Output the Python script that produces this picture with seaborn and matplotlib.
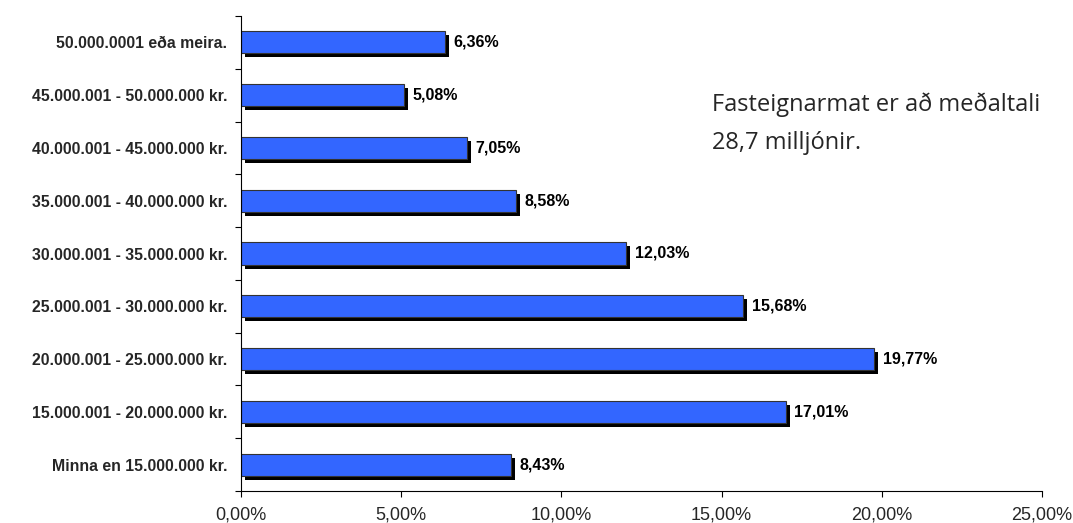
import matplotlib
matplotlib.use("Agg")
import matplotlib.pyplot as plt
import matplotlib.transforms as mtransforms
from matplotlib.ticker import FixedLocator, FuncFormatter
import seaborn as sns
import pandas as pd

categories = [
    "50.000.0001 eða meira.",
    "45.000.001 - 50.000.000 kr.",
    "40.000.001 - 45.000.000 kr.",
    "35.000.001 - 40.000.000 kr.",
    "30.000.001 - 35.000.000 kr.",
    "25.000.001 - 30.000.000 kr.",
    "20.000.001 - 25.000.000 kr.",
    "15.000.001 - 20.000.000 kr.",
    "Minna en 15.000.000 kr.",
]
values = [6.36, 5.08, 7.05, 8.58, 12.03, 15.68, 19.77, 17.01, 8.43]
x_ticks = [0, 5, 10, 15, 20, 25]
note = "Fasteignarmat er að meðaltali\n28,7 milljónir."

df = pd.DataFrame({"cat": categories, "val": values})

sns.set_theme(style="white")
plt.rcParams["font.family"] = ["Liberation Sans", "DejaVu Sans"]

fig = plt.figure(figsize=(10.73, 5.23), dpi=100)
ax = fig.add_axes([241 / 1073, 1 - 491 / 523, (1042 - 241) / 1073, (491 - 16) / 523])

# shadow bars
sns.barplot(data=df, x="val", y="cat", color="black", width=0.42, ax=ax,
            saturation=1, linewidth=0, orient="h")
shadow_patches = list(ax.patches)
off = mtransforms.ScaledTranslation(4 / 100, -4 / 100, fig.dpi_scale_trans)
for p in shadow_patches:
    p.set_transform(ax.transData + off)

# main bars
sns.barplot(data=df, x="val", y="cat", color="#3366FF", width=0.42, ax=ax,
            saturation=1, edgecolor="#333333", linewidth=0.8, orient="h")

for i, v in enumerate(values):
    ax.annotate(f"{v:.2f}%".replace(".", ","), xy=(v, i), xytext=(6, 0),
                textcoords="offset points", va="center", ha="left",
                fontsize=11.5, fontweight="bold", color="black")

ax.set_xlim(0, 25)
ax.set_ylim(len(categories) - 0.5, -0.5)
ax.set_xticks(x_ticks)
ax.xaxis.set_major_formatter(FuncFormatter(lambda x, pos: f"{x:.2f}%".replace(".", ",")))
ax.set_xlabel("")
ax.set_ylabel("")

ax.set_yticks(range(len(categories)))
ax.set_yticklabels(categories, fontsize=11.4, fontweight="bold")
ax.yaxis.set_minor_locator(FixedLocator([i - 0.5 for i in range(len(categories) + 1)]))
ax.tick_params(axis="y", which="major", length=0, pad=10)
ax.tick_params(axis="y", which="minor", left=True, length=4.5, width=0.8, color="black")
ax.tick_params(axis="x", which="major", bottom=True, length=4, width=0.8, color="black",
               labelsize=13, pad=7)

for s in ["top", "right"]:
    ax.spines[s].set_visible(False)
for s in ["left", "bottom"]:
    ax.spines[s].set_color("black")
    ax.spines[s].set_linewidth(0.8)

fig.text(712 / 1073, 1 - 124 / 523, note, fontsize=17, family=["Open Sans", "DejaVu Sans"],
         ha="left", va="center", linespacing=1.8)

fig.savefig("out.png", dpi=100, facecolor="white")
